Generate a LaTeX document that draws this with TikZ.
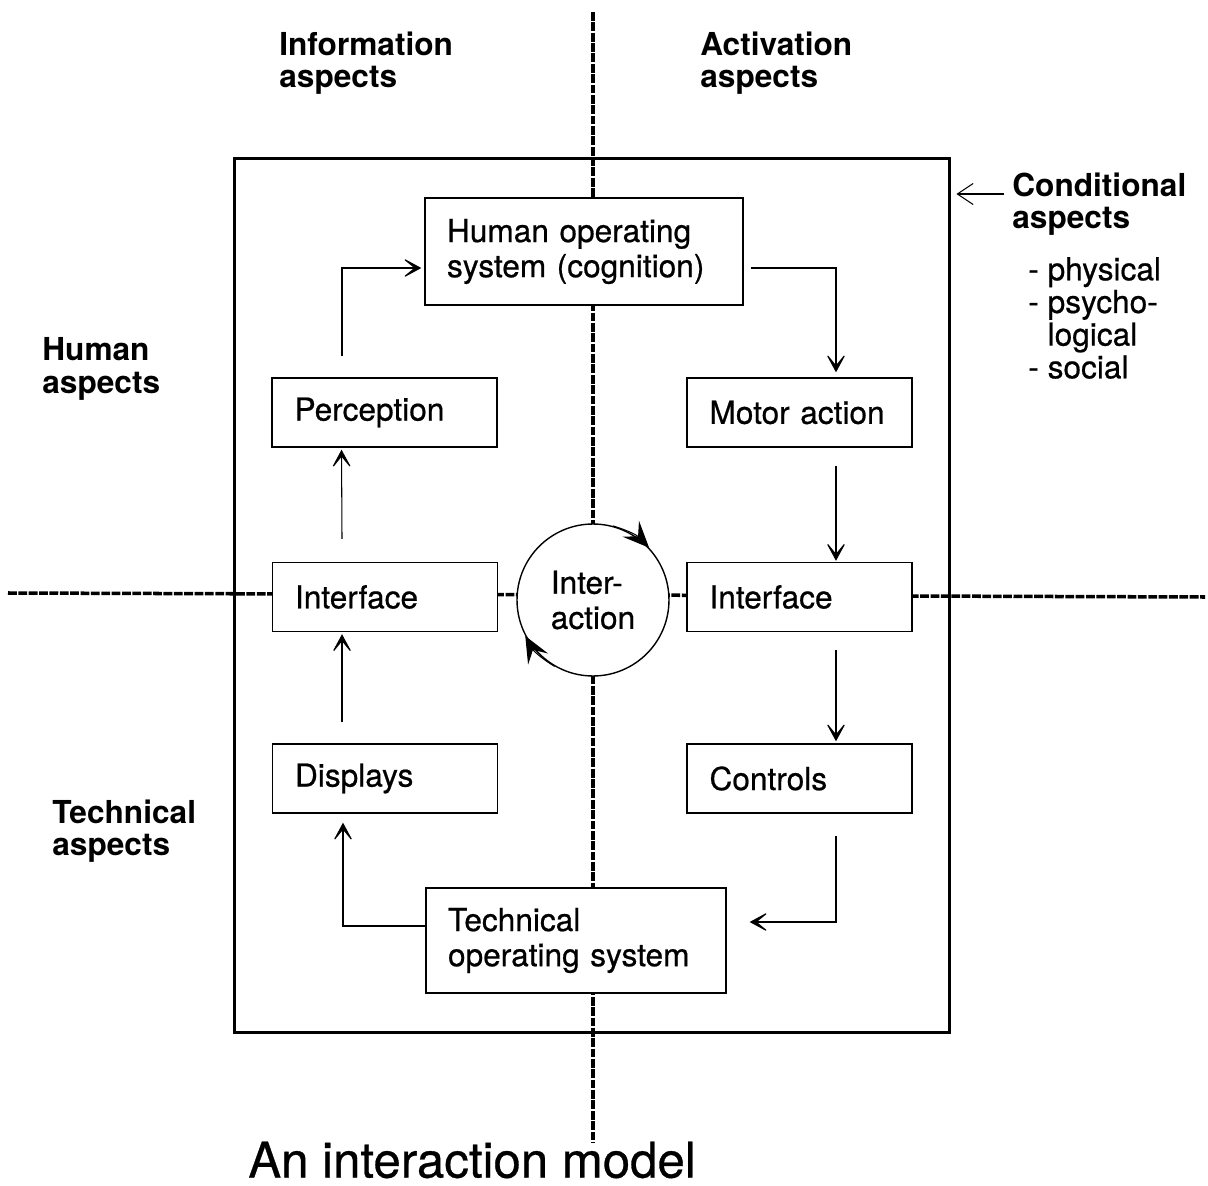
\documentclass[tikz,border=0pt]{standalone}
\usepackage{fontspec}
\setmainfont{TeX Gyre Heros}
\newfontfamily\heavyfont{TeX Gyre Heros}[FakeBold=0.6]
\usetikzlibrary{arrows.meta}
\begin{document}
\begin{tikzpicture}
[x=0.02cm, y=-0.02cm,
  every node/.style={font=\heavyfont\fontsize{18}{20}\selectfont},%
  boxdecorate/.style={draw,fill=white,line width=0.8pt,align=left,inner ysep=0pt,
    inner xsep=0.45cm,text width=3.6cm,minimum height=1.38cm},%
  bigboxdecorate/.style={boxdecorate,inner xsep=0.44cm,text width=#1},%
  labeldecorate/.style={anchor=west,inner sep=0pt,align=left,
    font=\fontsize{18}{18.5}\selectfont\bfseries},%
  axisdecorate/.style={line width=2pt,dash pattern=on 5pt off 0.9pt},%
  linedecorate/.style={line width=0.6pt,-{Stealth[length=12pt,width=13pt,inset=8pt]}},%
  circledecorate/.style={line width=0.6pt,-{Stealth[length=15pt,width=13pt,inset=6pt]}}]
\useasboundingbox (0,0) rectangle (1208,1186);
%% axes
\coordinate (vtop) at (593,12);
\coordinate (vbot) at (593,1143);
\coordinate (hleft) at (8,593);
\coordinate (hright) at (1205,597);
\draw[axisdecorate] (vtop) -- (vbot);
\draw[axisdecorate] (hleft) -- (hright);
%% frame
\node (frame) at (592,595.5) [draw,line width=1.7pt,minimum width=14.32cm,
  minimum height=17.5cm,inner sep=0pt] {};
%% boxes
\node (hos) at (584,251.5) [bigboxdecorate=5.48cm,minimum height=2.14cm]
  {Human operating\\system (cognition)};
\node (tos) at (576,940.5) [bigboxdecorate=5.12cm,minimum height=2.1cm]
  {Technical\\operating system};
\foreach \nodename/\x/\y/\caption in {
  perc/384.5/412.5/Perception, motor/799.5/412.5/Motor action,
  ifl/385/597/Interface, ifr/799.5/597/Interface,
  disp/385/778.5/Displays, ctrl/799.5/778.5/Controls} {
  \node (\nodename) at (\x,\y) [boxdecorate] {\caption};
}
\node (inter) at (593,600) [draw,circle,fill=white,line width=0.8pt,
  minimum size=3.04cm,inner sep=0pt,align=left] {Inter-\\action};
\draw[circledecorate] (inter.75) to[bend left=15] (inter.43);
\draw[circledecorate] (inter.240) to[bend left=15] (inter.208);
%% arrows
\draw[linedecorate] ([xshift=-0.85cm,yshift=0.42cm]perc.north)
  |- ([xshift=-0.06cm,yshift=-0.33cm]hos.west);
\draw[linedecorate] ([xshift=-0.86cm,yshift=0.46cm]ifl.north)
  -- ([xshift=-0.86cm,yshift=-0.04cm]perc.south);
\draw[linedecorate] ([xshift=-0.86cm,yshift=0.42cm]disp.north)
  -- ([xshift=-0.86cm,yshift=-0.04cm]ifl.south);
\draw[linedecorate] ([yshift=0.29cm]tos.west)
  -| ([xshift=-0.84cm,yshift=-0.18cm]disp.south);
\draw[linedecorate] ([xshift=0.14cm,yshift=-0.33cm]hos.east)
  -| ([xshift=0.73cm,yshift=0.1cm]motor.north);
\draw[linedecorate] ([xshift=0.73cm,yshift=-0.36cm]motor.south)
  -- ([xshift=0.73cm,yshift=0.02cm]ifr.north);
\draw[linedecorate] ([xshift=0.73cm,yshift=-0.36cm]ifr.south)
  -- ([xshift=0.73cm,yshift=0.04cm]ctrl.north);
\draw[linedecorate] ([xshift=0.73cm,yshift=-0.44cm]ctrl.south)
  |- ([xshift=0.46cm,yshift=0.37cm]tos.east);
%% labels
\node (info) at (279,63) [labeldecorate] {Information\\aspects};
\node (activ) at (700,63) [labeldecorate] {Activation\\aspects};
\node (cond) at (1012,204) [labeldecorate] {Conditional\\aspects};
\node (condlist) at (1028,318) [anchor=west,inner sep=0pt,align=left,
  font=\heavyfont\fontsize{18}{18.6}\selectfont] {- physical\\- psycho-\\\phantom{- }logical\\- social};
\node (human) at (42,369) [labeldecorate] {Human\\aspects};
\node (techn) at (52,831) [labeldecorate] {Technical\\aspects};
\node (title) at (248,1160) [anchor=west,inner sep=0pt,
  font=\heavyfont\fontsize{28}{30}\selectfont] {An interaction model};
\coordinate (condtail) at (1004,194);
\draw[line width=0.6pt,-{Straight Barb[length=9pt,width=12pt]},shorten >=0.1cm]
  (condtail) -- (condtail -| frame.east);
\end{tikzpicture}
\end{document}
